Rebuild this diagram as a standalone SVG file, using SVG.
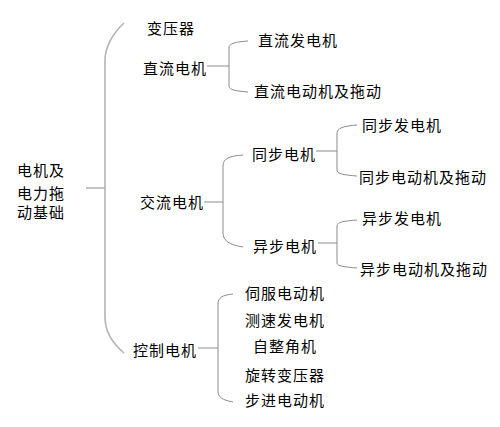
<svg xmlns="http://www.w3.org/2000/svg" width="500" height="427" viewBox="0 0 500 427">
<style>
text{font-family:"Noto Sans CJK SC","Noto Sans",sans-serif;font-size:15px;letter-spacing:1px;fill:#000}
.main{fill:none;stroke:#b4b4b4;stroke-width:1.6}
.br{fill:none;stroke:#8c8c8c;stroke-width:1}
</style>
<rect width="500" height="427" fill="#fff"/>
<g id="connectors">
<path class="main" d="M86,188 H105"/>
<path class="main" d="M124,23 C112,34 105,48 105,60 V317 C105,330 112,343 124,353"/>
<path class="br" d="M207,66 H229"/>
<path class="br" d="M248,41 C236,42 229,43 229,48 V86 C229,90 236,91 248,92"/>
<path class="br" d="M204,202 H223"/>
<path class="br" d="M243,155 C230,156 223,158 223,166 V233 C223,241 230,245 243,247"/>
<path class="br" d="M316,151 H337"/>
<path class="br" d="M357,125 C344,126 337,128 337,133 V170 C337,174 344,175 357,176"/>
<path class="br" d="M318,243 H337"/>
<path class="br" d="M357,220 C344,221 337,222 337,226 V263 C337,266 344,267 357,268"/>
<path class="br" d="M198,348 H218"/>
<path class="br" d="M233,294 C222,295 218,298 218,304 V391 C218,397 222,400 233,402"/>
</g>
<g id="root"><text x="17" y="176">电机及</text><text x="17" y="199">电力拖</text><text x="17" y="218">动基础</text></g>
<g id="n-transformer"><text x="147" y="34">变压器</text></g>
<g id="n-dc"><text x="143" y="74">直流电机</text></g>
<g id="n-ac"><text x="140" y="208">交流电机</text></g>
<g id="n-ctrl"><text x="133" y="356">控制电机</text></g>
<g id="n-dc-gen"><text x="258" y="46">直流发电机</text></g>
<g id="n-dc-mot"><text x="254" y="97">直流电动机及拖动</text></g>
<g id="n-sync"><text x="252" y="160">同步电机</text></g>
<g id="n-async"><text x="253" y="252">异步电机</text></g>
<g id="n-sync-gen"><text x="362" y="131">同步发电机</text></g>
<g id="n-sync-mot"><text x="359" y="183">同步电动机及拖动</text></g>
<g id="n-async-gen"><text x="362" y="224">异步发电机</text></g>
<g id="n-async-mot"><text x="360" y="275">异步电动机及拖动</text></g>
<g id="n-servo"><text x="245" y="299">伺服电动机</text></g>
<g id="n-tacho"><text x="245" y="326">测速发电机</text></g>
<g id="n-selsyn"><text x="253" y="352">自整角机</text></g>
<g id="n-resolver"><text x="245" y="381">旋转变压器</text></g>
<g id="n-stepper"><text x="245" y="406">步进电动机</text></g>
</svg>
